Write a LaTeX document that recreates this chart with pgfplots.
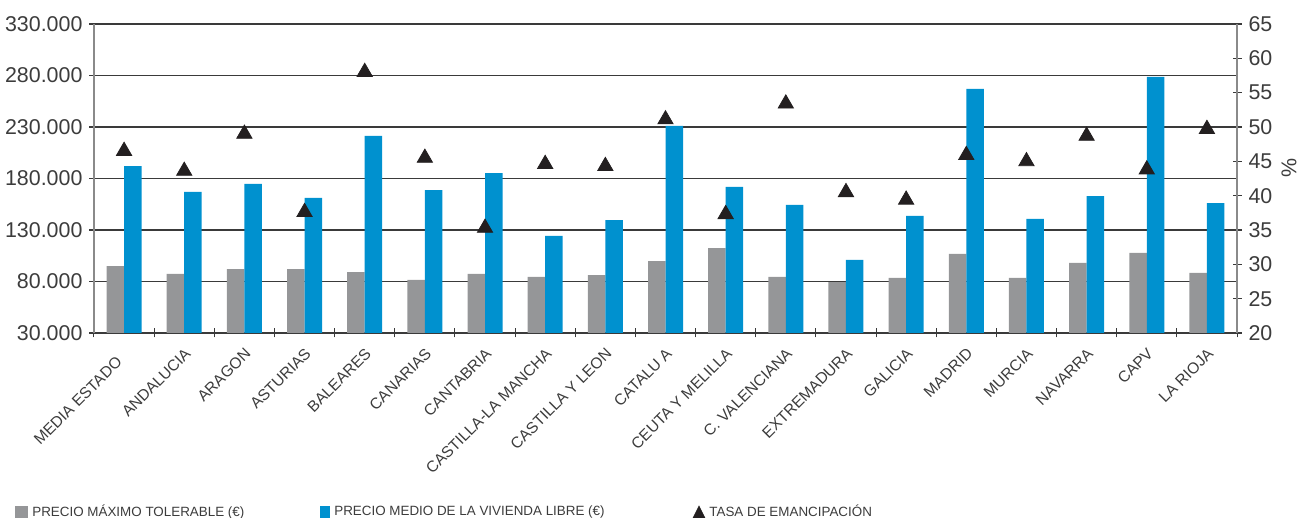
\documentclass[border=0pt]{standalone}
\usepackage{pgfplots}
\pgfplotsset{compat=1.18}
\usepackage{pgfplotstable}
\usepackage{fontspec}
\setmainfont{Liberation Sans}
\definecolor{bgray}{HTML}{959698}
\definecolor{bblue}{HTML}{0091CF}
\definecolor{tri}{HTML}{231F20}
\definecolor{txt}{HTML}{3C3C3C}
\definecolor{gridc}{HTML}{3A3A3A}
\definecolor{axc}{HTML}{8A8A8A}

\pgfplotstableread{
x gray blue tasa
0 95000 192100 46.5
1 87300 166900 43.6
2 92100 174700 49.0
3 92100 161100 37.6
4 89200 221300 58.0
5 81500 168800 45.5
6 87300 185300 35.3
7 84400 124200 44.6
8 86300 139700 44.3
9 99900 231000 51.1
10 112500 171800 37.3
11 84400 154300 53.4
12 79500 100900 40.5
13 83400 143600 39.4
14 106700 266900 45.9
15 83400 140700 45.0
16 98000 163000 48.7
17 107700 278600 43.8
18 88300 156200 49.7
}\datatable

\begin{document}
\begin{tikzpicture}
\useasboundingbox (-47pt,-92.5pt) rectangle (603.5pt,166.5pt);
\begin{axis}[
  at={(0,0)}, anchor=south west,
  scale only axis, width=571.5pt, height=154.5pt,
  ybar=0pt, bar width=8.75pt,
  xmin=-0.5, xmax=18.5,
  ymin=30000, ymax=330000,
  axis x line*=bottom, axis y line*=left,
  x axis line style={-, draw=gridc, line width=0.8pt},
  y axis line style={-, draw=axc, line width=0.6pt},
  xtick={0,...,18},
  xticklabels={{MEDIA ESTADO\rule{6pt}{0pt}}, ANDALUCIA, ARAGON, ASTURIAS, BALEARES, CANARIAS, CANTABRIA, CASTILLA-LA MANCHA, CASTILLA Y LEON, CATALU A, CEUTA Y MELILLA, C. VALENCIANA, EXTREMADURA, GALICIA, MADRID, MURCIA, NAVARRA, CAPV, LA RIOJA},
  major x tick style={draw=none},
  minor xtick={-0.5,0.5,...,18.5},
  minor x tick style={draw=gridc, line width=0.5pt},
  minor tick length=4.5pt,
  major tick length=4.5pt,
  tick align=center,
  xticklabel style={rotate=45, anchor=east, yshift=-6pt, font=\fontsize{7.8}{9}\selectfont, text=txt},
  ytick={30000,80000,...,330000},
  scaled y ticks=false,
  yticklabel style={/pgf/number format/fixed, /pgf/number format/1000 sep={.}, /pgf/number format/assume math mode=true, font=\fontsize{10.7}{12}\selectfont, text=txt},
  y tick style={draw=gridc, line width=0.6pt},
  ymajorgrids,
  grid style={draw=gridc, line width=0.8pt},
  legend style={at={(-0.0744,-0.58)}, anchor=west, draw=none, fill=none,
    font=\fontsize{6.7}{8}\selectfont, text=txt,
    nodes={inner xsep=2pt, inner ysep=1pt},
    /tikz/column 2/.style={column sep=36pt},
    /tikz/column 4/.style={column sep=42pt}},
  legend columns=3,
]
\addplot[fill=bgray, draw=none, legend image code/.code={\fill[bgray] (0pt,-3.2pt) rectangle (6.5pt,3.2pt);}] table[x=x,y=gray]{\datatable};
\addlegendentry{PRECIO MÁXIMO TOLERABLE (€)}
\addplot[fill=bblue, draw=none, legend image code/.code={\fill[bblue] (0pt,-3.2pt) rectangle (5pt,3.2pt);}] table[x=x,y=blue]{\datatable};
\addlegendentry{PRECIO MEDIO DE LA VIVIENDA LIBRE (€)}
\addlegendimage{legend image code/.code={\fill[tri] (0pt,-3pt) -- (6pt,-3pt) -- (3pt,3pt) -- cycle;}}
\addlegendentry{TASA DE EMANCIPACIÓN}
\end{axis}
\begin{axis}[
  at={(0,0)}, anchor=south west,
  scale only axis, width=571.5pt, height=154.5pt,
  xmin=-0.5, xmax=18.5,
  ymin=20, ymax=65,
  clip=false,
  axis y line*=right, axis x line=none,
  y axis line style={-, draw=axc, line width=0.6pt},
  ytick={20,25,...,65},
  tick align=center, major tick length=4.5pt,
  y tick style={draw=gridc, line width=0.6pt},
  yticklabel style={font=\fontsize{10.7}{12}\selectfont, text=txt, /pgf/number format/assume math mode=true},
]
\addplot[only marks, mark=triangle*, mark size=4.4pt, mark options={fill=tri, draw=tri}] table[x=x,y=tasa]{\datatable};
\node[rotate=90, anchor=center, font=\fontsize{10.7}{12}\selectfont, text=txt] at (rel axis cs:1.0455,0.535) {\%};
\end{axis}
\end{tikzpicture}
\end{document}
